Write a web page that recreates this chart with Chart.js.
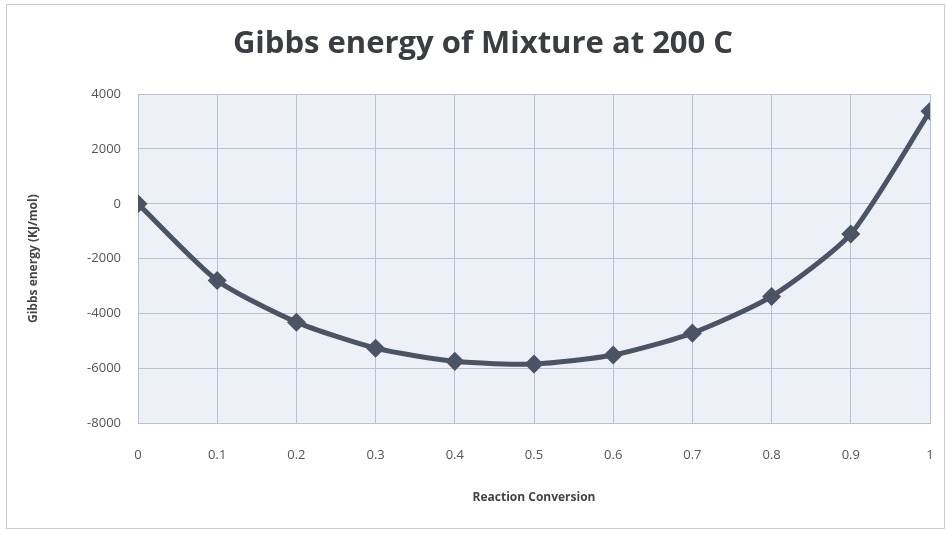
<!DOCTYPE html>
<html>
<head>
<meta charset="utf-8">
<script src="https://cdn.jsdelivr.net/npm/chart.js@4"></script>
<style>
  html, body { margin: 0; padding: 0; background: #fff; }
  #wrap { width: 947px; height: 534px; }
</style>
</head>
<body>
<div id="wrap"><canvas id="myChart" width="947" height="534"></canvas></div>
<script>
var lineColor = "rgba(74, 84, 100, 1)";
var gridColor = "rgba(184, 194, 210, 1)";
var plotBg = "rgba(237, 241, 247, 1)";

var conversion = [0, 0.1, 0.2, 0.3, 0.4, 0.5, 0.6, 0.7, 0.8, 0.9, 1];
var gibbs = [0, -2800, -4320, -5270, -5750, -5850, -5520, -4720, -3380, -1100, 3380];
var yTicks = [-8000, -6000, -4000, -2000, 0, 2000, 4000];

var points = [];
for (var i = 0; i < conversion.length; i++) {
    points.push({ x: conversion[i], y: gibbs[i] });
}

// plot area fill + outer frame
var frame = {
    id: "frame",
    beforeDraw: function (chart) {
        var ctx = chart.ctx, a = chart.chartArea;
        ctx.save();
        ctx.fillStyle = "#fff";
        ctx.fillRect(0, 0, chart.width, chart.height);
        ctx.fillStyle = plotBg;
        ctx.fillRect(a.left, a.top, a.right - a.left, a.bottom - a.top);
        ctx.strokeStyle = "rgba(200, 205, 215, 1)";
        ctx.lineWidth = 1;
        ctx.strokeRect(6.5, 4.5, 938, 524);
        ctx.restore();
    }
};

new Chart("myChart", {
    type: "line",
    data: {
        datasets: [
            {
                data: points,
                borderColor: lineColor,
                backgroundColor: lineColor,
                borderWidth: 5,
                tension: 0.22,
                pointStyle: "rectRot",
                pointRadius: 6,
                pointHoverRadius: 6,
            },
        ],
    },
    options: {
        responsive: false,
        animation: false,
        layout: {
            padding: { left: 36, right: 17, top: 0, bottom: 0 },
        },
        plugins: {
            legend: { display: false },
            tooltip: { enabled: false },
            title: {
                display: true,
                text: "Gibbs energy of Mixture at 200 C",
                color: "#3a3d42",
                font: { family: "Open Sans", size: 31, weight: "bold" },
                padding: { top: 26, bottom: 31 },
            },
        },
        scales: {
            x: {
                type: "linear",
                min: 0,
                max: 1,
                afterFit: function (s) {
                    s.height = 111;
                    s.paddingLeft = 0;
                    s.paddingRight = 0;
                },
                grid: { color: gridColor, drawTicks: false },
                border: { color: gridColor },
                ticks: {
                    stepSize: 0.1,
                    padding: 24,
                    color: "#555",
                    font: { family: "Open Sans", size: 13 },
                    callback: function (v) { return String(Math.round(v * 10) / 10); },
                },
                title: {
                    display: true,
                    text: "Reaction Conversion",
                    color: "#444",
                    font: { family: "Open Sans", size: 12, weight: "bold" },
                    padding: { bottom: 29 },
                },
            },
            y: {
                min: -8000,
                max: 4000,
                afterFit: function (s) { s.width = 102; },
                afterBuildTicks: function (s) {
                    s.ticks = yTicks.map(function (v) { return { value: v }; });
                },
                grid: { color: gridColor, drawTicks: false },
                border: { color: gridColor },
                ticks: {
                    padding: 17,
                    color: "#555",
                    font: { family: "Open Sans", size: 13 },
                    callback: function (v) { return String(v); },
                },
                title: {
                    display: true,
                    text: "Gibbs energy (KJ/mol)",
                    color: "#444",
                    font: { family: "Open Sans", size: 12, weight: "bold" },
                    padding: { top: -10 },
                },
            },
        },
    },
    plugins: [frame],
});
</script>
</body>
</html>
